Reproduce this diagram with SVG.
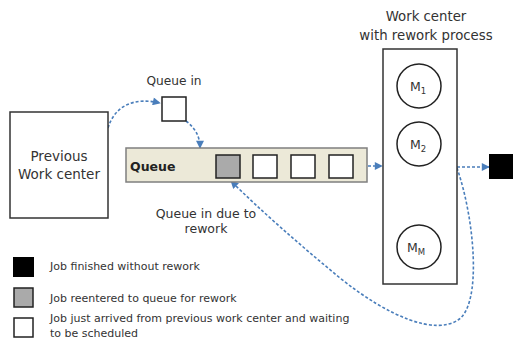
<svg xmlns="http://www.w3.org/2000/svg" width="513" height="340" viewBox="0 0 513 340">
<defs>
<style>
.box{fill:#fff;stroke:#333;stroke-width:1.5}
.job{stroke:#222;stroke-width:1.5}
.lbl{font-family:"DejaVu Sans",Verdana,sans-serif;fill:#333}
.con{fill:none;stroke:#4a7ebb;stroke-width:1.6;stroke-dasharray:3 2}
.mc{fill:#fff;stroke:#222;stroke-width:1.5}
</style>
<marker id="ah" viewBox="0 0 10 10" refX="9" refY="5" markerWidth="9" markerHeight="8" markerUnits="userSpaceOnUse" orient="auto">
<path d="M0,0 L10,5 L0,10 Z" fill="#4a7ebb"/>
</marker>
</defs>
<rect width="513" height="340" fill="#fff"/>

<g id="connectors">
<path class="con" d="M108,128 C115,105 135,97 160,103" marker-end="url(#ah)"/>
<path class="con" d="M186,121 C195,128 200,136 200,148" marker-end="url(#ah)"/>
<path class="con" d="M353,166 L382,166" marker-end="url(#ah)"/>
<path class="con" d="M457,167 L489,167" marker-end="url(#ah)"/>
<path class="con" d="M457,168 C475,220 482,305 458,320 C435,335 390,318 340,278 C300,245 260,210 231,181" marker-end="url(#ah)"/>
</g>

<g id="previous-work-center">
<rect class="box" x="10" y="112" width="98" height="106"/>
<text class="lbl" x="59" y="161" font-size="13.5" text-anchor="middle">Previous</text>
<text class="lbl" x="59" y="179" font-size="13.5" text-anchor="middle">Work center</text>
</g>

<g id="queue-in">
<text class="lbl" x="174" y="85" font-size="12.2" text-anchor="middle">Queue in</text>
<rect class="job" x="162" y="97" width="24" height="24" fill="#fff"/>
</g>

<g id="queue">
<rect x="126" y="148" width="241" height="34" fill="#ece9d8" stroke="#7f7f7f" stroke-width="1.5"/>
<text class="lbl" x="130" y="171" font-size="12.5" font-weight="bold" fill="#222" style="fill:#222">Queue</text>
<rect class="job" x="216" y="155" width="24" height="23" fill="#aaa"/>
<rect class="job" x="253" y="155" width="24" height="23" fill="#fff"/>
<rect class="job" x="291" y="155" width="24" height="23" fill="#fff"/>
<rect class="job" x="329" y="155" width="24" height="23" fill="#fff"/>
</g>

<g id="queue-in-rework-label">
<text class="lbl" x="206" y="218" font-size="12.5" text-anchor="middle">Queue in due to</text>
<text class="lbl" x="206" y="233" font-size="12.5" text-anchor="middle">rework</text>
</g>

<g id="work-center">
<text class="lbl" x="426" y="21" font-size="13.3" text-anchor="middle">Work center</text>
<text class="lbl" x="426" y="40" font-size="13.3" text-anchor="middle">with rework process</text>
<rect class="box" x="383" y="49" width="74" height="235"/>
<circle class="mc" cx="419" cy="86" r="22"/>
<text class="lbl" x="410" y="91" font-size="12.5">M<tspan font-size="8.5" dy="3">1</tspan></text>
<circle class="mc" cx="419" cy="144" r="22"/>
<text class="lbl" x="410" y="149" font-size="12.5">M<tspan font-size="8.5" dy="3">2</tspan></text>
<circle class="mc" cx="419" cy="247" r="22"/>
<text class="lbl" x="407" y="252" font-size="12.5">M<tspan font-size="8.5" dy="3">M</tspan></text>
</g>

<g id="finished-job">
<rect x="489" y="154" width="26" height="25" fill="#000"/>
</g>

<g id="legend">
<rect x="13" y="257" width="21" height="20" fill="#000"/>
<text class="lbl" x="50" y="270" font-size="11">Job finished without rework</text>
<rect class="job" x="14" y="288" width="19" height="19" fill="#aaa"/>
<text class="lbl" x="50" y="302" font-size="11">Job reentered to queue for rework</text>
<rect class="job" x="14" y="318" width="19" height="19" fill="#fff"/>
<text class="lbl" x="50" y="322" font-size="11">Job just arrived from previous work center and waiting</text>
<text class="lbl" x="50" y="337" font-size="11">to be scheduled</text>
</g>
</svg>
